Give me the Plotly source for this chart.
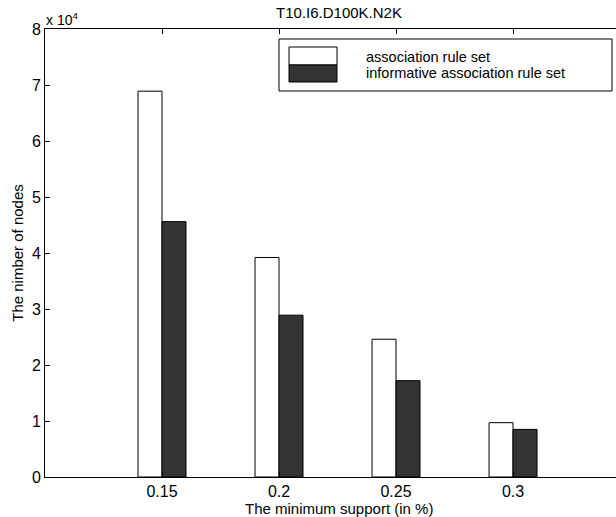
import plotly.graph_objects as go

categories = ["0.15", "0.2", "0.25", "0.3"]
assoc_rules = [68900, 39200, 24600, 9700]
informative_rules = [45600, 28900, 17200, 8500]
series_names = ["association rule set", "informative association rule set"]
y_tick_values = [0, 10000, 20000, 30000, 40000, 50000, 60000, 70000, 80000]
y_tick_labels = ["0", "1", "2", "3", "4", "5", "6", "7", "8"]

W, H = 616, 517
L, R, T, B = 45, 0, 29, 40
PW, PH = W - L - R, H - T - B


def px(x):
    return (x - L) / PW


def py(y):
    return (H - B - y) / PH


FONT = "Liberation Sans, Arial, Helvetica, sans-serif"
FS = 15

fig = go.Figure()
fig.add_trace(go.Bar(
    x=categories, y=assoc_rules, name=series_names[0],
    marker=dict(color="white", line=dict(color="black", width=1)),
    showlegend=False,
))
fig.add_trace(go.Bar(
    x=categories, y=informative_rules, name=series_names[1],
    marker=dict(color="#333333", line=dict(color="black", width=1)),
    showlegend=False,
))

fig.update_layout(
    width=W, height=H,
    margin=dict(l=L, r=R, t=T, b=B, autoexpand=False),
    paper_bgcolor="white", plot_bgcolor="white",
    barmode="group", bargap=0.59, bargroupgap=0,
    showlegend=False,
    font=dict(family=FONT, size=FS, color="black"),
    title=dict(text="T10.I6.D100K.N2K", xref="paper", x=px(339), xanchor="center",
               yref="container", y=1 - 13 / H, yanchor="middle", font=dict(size=FS)),
    xaxis=dict(
        type="category", range=[-1, 3.88],
        showline=True, linecolor="black", linewidth=1, mirror="ticks",
        ticks="inside", ticklen=5, tickcolor="black",
        showgrid=False, zeroline=False,
        tickfont=dict(size=16),
    ),
    yaxis=dict(
        range=[0, 80000],
        tickvals=y_tick_values, ticktext=y_tick_labels,
        showline=True, linecolor="black", linewidth=1,
        ticks="inside", ticklen=5, tickcolor="black",
        showgrid=False, zeroline=False,
        tickfont=dict(size=16),
        title=dict(text="The nimber of nodes", standoff=4, font=dict(size=FS)),
    ),
)

# x-axis title (centred on the full MATLAB axes, which extend past the crop)
fig.add_annotation(text="The minimum support (in %)", xref="paper", yref="paper",
                   x=px(339), y=py(508), xanchor="center", yanchor="middle",
                   showarrow=False, font=dict(size=FS))

# exponent label
fig.add_annotation(text="x 10<sup>4</sup>", xref="paper", yref="paper",
                   x=px(44), y=py(19), xanchor="left", yanchor="middle",
                   showarrow=False, font=dict(size=14))

# manual legend (MATLAB style)
fig.add_shape(type="rect", xref="paper", yref="paper",
              x0=px(279), x1=px(612), y0=py(91), y1=py(39),
              line=dict(color="black", width=1), fillcolor="white")
fig.add_shape(type="rect", xref="paper", yref="paper",
              x0=px(289), x1=px(337), y0=py(65), y1=py(47),
              line=dict(color="black", width=1), fillcolor="white")
fig.add_shape(type="rect", xref="paper", yref="paper",
              x0=px(289), x1=px(337), y0=py(82), y1=py(65),
              line=dict(color="black", width=1), fillcolor="#333333")
fig.add_annotation(text=series_names[0], xref="paper", yref="paper",
                   x=px(364), y=py(57.5), xanchor="left", yanchor="middle",
                   showarrow=False, font=dict(size=14.5))
fig.add_annotation(text=series_names[1], xref="paper", yref="paper",
                   x=px(364), y=py(73.5), xanchor="left", yanchor="middle",
                   showarrow=False, font=dict(size=14.5))

fig.write_html(
    "out.html",
    config={"displayModeBar": False},
    post_script="document.body.style.margin='0';document.body.style.overflow='hidden';",
)
